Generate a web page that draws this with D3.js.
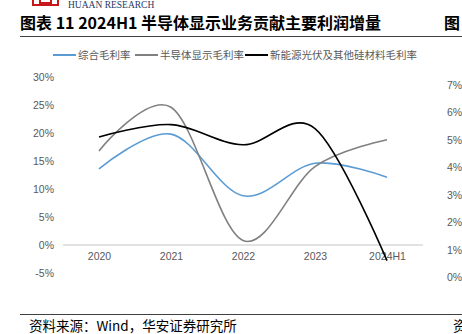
<!DOCTYPE html>
<html lang="zh">
<head>
<meta charset="UTF-8">
<title>图表 11</title>
<script src="https://d3js.org/d3.v7.min.js"></script>
<style>
    body{ margin:0; background:#fff; }
    text{ font-family: "Liberation Sans", Arial, sans-serif; }
    .cn{ font-family: "Noto Sans CJK SC", sans-serif; }
    .tick text{ fill:#595959; font-size:10.5px; }
</style>
</head>
<body>
<svg width="462" height="334"></svg>
<script>
    // years on the x axis
    const years = ["2020", "2021", "2022", "2023", "2024H1"]
    // gross margin series, in %
    const zongheMargin = [13.6, 19.8, 8.8, 14.6, 12.1]
    const bandaotiMargin = [16.8, 24.6, 0.8, 14.0, 18.8]
    const xinnengyuanMargin = [19.3, 21.5, 17.9, 20.8, -2.8]
    const seriesNames = ["综合毛利率", "半导体显示毛利率", "新能源光伏及其他硅材料毛利率"]
    const seriesColors = ["#5B9BD5", "#808080", "#000000"]
    const yTicks = [-5, 0, 5, 10, 15, 20, 25, 30]
    // axis of the neighbouring chart, cut by the page edge
    const nextTicks = [0, 1, 2, 3, 4, 5, 6, 7]

    const series = [zongheMargin, bandaotiMargin, xinnengyuanMargin]

    let svg = d3.select("svg")

    // header: logo and titles
    let logo = svg.append("g").attr("transform", "translate(33,-6)")
    logo.append("rect").attr("x", 0).attr("y", 0).attr("width", 25).attr("height", 11)
        .attr("fill", "none").attr("stroke", "#C8161D").attr("stroke-width", 2)
    logo.append("rect").attr("x", 7).attr("y", 0).attr("width", 11).attr("height", 9)
        .attr("fill", "none").attr("stroke", "#C8161D").attr("stroke-width", 2)
    svg.append("text").attr("x", 68).attr("y", 8)
        .style("font-family", "'Liberation Serif', serif").style("font-size", "9.5px")
        .attr("fill", "#1F3864").text("HUAAN RESEARCH")

    svg.append("text").attr("class", "cn").attr("x", 20).attr("y", 29)
        .style("font-size", "16px").style("font-weight", "bold").attr("fill", "#000")
        .text("图表 11 2024H1 半导体显示业务贡献主要利润增量")
    svg.append("text").attr("class", "cn").attr("x", 444).attr("y", 29)
        .style("font-size", "16px").style("font-weight", "bold").attr("fill", "#000")
        .text("图")
    svg.append("line").attr("x1", 20).attr("x2", 462).attr("y1", 36.5).attr("y2", 36.5)
        .attr("stroke", "#404040").attr("stroke-width", 1)

    // scales
    let x = d3.scalePoint().domain(years).range([63, 423]).padding(0.5)
    let y = d3.scaleLinear().domain([-5, 30]).range([273, 77])

    // left axis labels only
    let yAxis = svg.append("g").attr("transform", "translate(57,0)")
        .call(d3.axisLeft(y).tickValues(yTicks).tickFormat(d => d + "%").tickSize(0).tickPadding(3))
    yAxis.select(".domain").remove()

    // category axis sits on the zero line
    svg.append("line").attr("x1", 63).attr("x2", 423).attr("y1", y(0)).attr("y2", y(0))
        .attr("stroke", "#D9D9D9").attr("stroke-width", 1.5)
    let xAxis = svg.append("g").attr("transform", `translate(0,${y(0)})`)
        .call(d3.axisBottom(x).tickSize(0).tickPadding(8))
    xAxis.select(".domain").remove()

    // smoothed lines
    let line = d3.line()
        .x((d, i) => x(years[i]))
        .y(d => y(d))
        .curve(d3.curveCardinal.tension(0))

    svg.append("g").selectAll("path")
        .data(series)
        .enter()
        .append("path")
        .attr("d", d => line(d))
        .attr("fill", "none")
        .attr("stroke", (d, i) => seriesColors[i])
        .attr("stroke-width", 1.6)

    // legend
    let legendX = [53, 135, 245]
    let legend = svg.append("g").selectAll("g")
        .data(seriesNames)
        .enter()
        .append("g")
        .attr("transform", (d, i) => `translate(${legendX[i]},55)`)
    legend.append("line").attr("x1", 0).attr("x2", 23).attr("y1", 0).attr("y2", 0)
        .attr("stroke", (d, i) => seriesColors[i]).attr("stroke-width", 2)
    legend.append("text").attr("class", "cn").attr("x", 25).attr("y", 4)
        .style("font-size", "10.5px").attr("fill", "#595959")
        .text(d => d)

    // neighbouring chart's axis at the right edge
    let yNext = d3.scaleLinear().domain([0, 7]).range([277, 85])
    svg.append("g").selectAll("text")
        .data(nextTicks)
        .enter()
        .append("text")
        .attr("x", 447)
        .attr("y", d => yNext(d) + 4)
        .style("font-size", "10.5px").attr("fill", "#595959")
        .text(d => d + "%")

    // footer
    svg.append("line").attr("x1", 20).attr("x2", 462).attr("y1", 314.5).attr("y2", 314.5)
        .attr("stroke", "#404040").attr("stroke-width", 1)
    svg.append("text").attr("class", "cn").attr("x", 29).attr("y", 331)
        .style("font-size", "13.5px").attr("fill", "#000")
        .text("资料来源：Wind，华安证券研究所")
    svg.append("text").attr("class", "cn").attr("x", 453).attr("y", 331)
        .style("font-size", "13.5px").attr("fill", "#000")
        .text("资")
</script>
</body>
</html>
